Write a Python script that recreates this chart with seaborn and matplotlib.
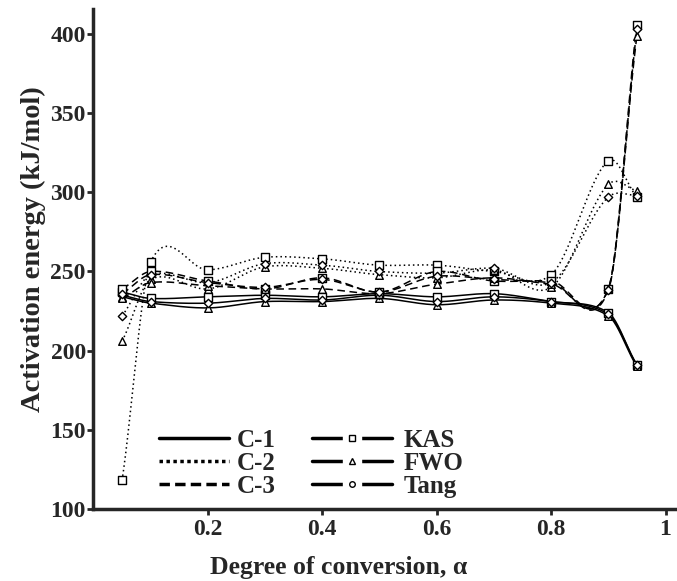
import numpy as np
import pandas as pd
import matplotlib
matplotlib.use("Agg")
import matplotlib.pyplot as plt
from matplotlib.lines import Line2D
import seaborn as sns

# conversion degrees
alpha = [0.05, 0.1, 0.2, 0.3, 0.4, 0.5, 0.6, 0.7, 0.8, 0.9, 0.95]

# activation energies (kJ/mol)
kas_c1 = [237, 233, 234, 235, 234, 236, 234, 236, 231, 224, 191]
fwo_c1 = [234, 230, 227, 231, 231, 233, 229, 232, 230, 222, 190]
tang_c1 = [235, 231, 230, 233, 232, 235, 231, 234, 231, 223, 191]

kas_c2 = [118, 256, 251, 259, 258, 254, 254, 250, 248, 320, 297]
fwo_c2 = [206, 245, 239, 253, 252, 248, 246, 251, 240, 305, 301]
tang_c2 = [222, 248, 243, 255, 254, 250, 249, 252, 243, 297, 298]

kas_c3 = [239, 250, 244, 239, 246, 237, 250, 244, 244, 239, 406]
fwo_c3 = [233, 243, 241, 239, 239, 236, 242, 246, 242, 239, 399]
tang_c3 = [236, 248, 243, 240, 245, 237, 247, 245, 243, 238, 403]

samples = ["C-1", "C-2", "C-3"]
methods = ["KAS", "FWO", "Tang"]
series = {
    ("C-1", "KAS"): kas_c1, ("C-1", "FWO"): fwo_c1, ("C-1", "Tang"): tang_c1,
    ("C-2", "KAS"): kas_c2, ("C-2", "FWO"): fwo_c2, ("C-2", "Tang"): tang_c2,
    ("C-3", "KAS"): kas_c3, ("C-3", "FWO"): fwo_c3, ("C-3", "Tang"): tang_c3,
}

rows = []
for (s, m), vals in series.items():
    for a, v in zip(alpha, vals):
        rows.append({"alpha": a, "Ea": v, "sample": s, "method": m})
df = pd.DataFrame(rows)

line_styles = {"C-1": "-", "C-2": (0, (1, 2)), "C-3": (0, (5, 3))}
marker_map = {"KAS": "s", "FWO": "^", "Tang": "D"}
marker_size = {"KAS": 30, "FWO": 30, "Tang": 18}


def smooth_curve(x, y, n=40, tension=0.85):
    # cubic Hermite (Catmull-Rom style) curve through the points
    x = np.asarray(x, float)
    y = np.asarray(y, float)
    k = len(x)
    m = np.zeros(k)
    m[0] = (y[1] - y[0]) / (x[1] - x[0])
    m[-1] = (y[-1] - y[-2]) / (x[-1] - x[-2])
    m[1:-1] = (y[2:] - y[:-2]) / (x[2:] - x[:-2])
    m *= tension
    xs_all, ys_all = [], []
    for i in range(k - 1):
        h = x[i + 1] - x[i]
        t = np.linspace(0, 1, n)
        h00 = 2 * t ** 3 - 3 * t ** 2 + 1
        h10 = t ** 3 - 2 * t ** 2 + t
        h01 = -2 * t ** 3 + 3 * t ** 2
        h11 = t ** 3 - t ** 2
        xs_all.append(x[i] + t * h)
        ys_all.append(h00 * y[i] + h10 * h * m[i] + h01 * y[i + 1] + h11 * h * m[i + 1])
    return np.concatenate(xs_all), np.concatenate(ys_all)


sns.set_style("ticks")
plt.rcParams["font.family"] = ["Liberation Serif", "DejaVu Serif"]
plt.rcParams["font.weight"] = "bold"

fig = plt.figure(figsize=(6.77, 5.81), dpi=100)
ax = fig.add_axes([0.138, 0.124, 0.862, 0.861])

for s in samples:
    for m in methods:
        sub = df[(df["sample"] == s) & (df["method"] == m)]
        xs, ys = smooth_curve(sub["alpha"], sub["Ea"])
        smooth = pd.DataFrame({"alpha": xs, "Ea": ys})
        sns.lineplot(data=smooth, x="alpha", y="Ea", ax=ax, color="black",
                     lw=1.1, linestyle=line_styles[s], sort=False,
                     estimator=None, legend=False)
        sns.scatterplot(data=sub, x="alpha", y="Ea", ax=ax,
                        marker=marker_map[m], s=marker_size[m],
                        facecolor="white", edgecolor="black", linewidth=1,
                        legend=False, zorder=3)

ax.set_xlim(0, 1.02)
ax.set_ylim(100, 416)
ax.set_xticks([0.2, 0.4, 0.6, 0.8, 1.0])
ax.set_xticklabels(["0.2", "0.4", "0.6", "0.8", "1"])
ax.set_yticks([100, 150, 200, 250, 300, 350, 400])
ax.tick_params(axis="both", labelsize=17, width=2, length=4, direction="out")
ax.tick_params(axis="y", pad=1.5)
ax.tick_params(axis="x", pad=3)
for lab in ax.get_xticklabels() + ax.get_yticklabels():
    lab.set_fontweight("bold")

sns.despine(ax=ax)
ax.spines["left"].set_linewidth(2.5)
ax.spines["bottom"].set_linewidth(2.5)

ax.set_xlabel("Degree of conversion, α", fontsize=18.5, fontweight="bold")
ax.set_ylabel("Activation energy (kJ/mol)", fontsize=20.5, fontweight="bold")
ax.xaxis.set_label_coords(0.42, -0.094)
ax.yaxis.set_label_coords(-0.082, 0.52)

# legend for samples (line styles)
sample_handles = [
    Line2D([], [], color="black", lw=2.5, linestyle="-"),
    Line2D([], [], color="black", lw=2.5, linestyle=(0, (1, 1))),
    Line2D([], [], color="black", lw=2.5, linestyle=(0, (3, 1.5))),
]
leg1 = ax.legend(sample_handles, samples, loc="upper left",
                 bbox_to_anchor=(0.113, 0.16), frameon=False,
                 handlelength=2.8, handletextpad=0.3, labelspacing=0.0,
                 borderaxespad=0, borderpad=0,
                 prop={"size": 18, "weight": "bold"})
ax.add_artist(leg1)

# legend for methods (markers)
method_handles = []
for m, ms in zip(methods, [5, 5, 4]):
    ln = Line2D([], [], color="black", lw=2.5, linestyle="-")
    gap = Line2D([], [], color="white", marker="s", markersize=13,
                 markeredgecolor="white", linestyle="none")
    mk = Line2D([], [], color="black", marker=marker_map[m] if m != "Tang" else "o",
                markersize=ms, markerfacecolor="white", markeredgecolor="black",
                markeredgewidth=1, linestyle="none")
    method_handles.append((ln, gap, mk))
ax.legend(method_handles, methods, loc="upper left",
          bbox_to_anchor=(0.375, 0.16), frameon=False,
          handlelength=3.2, handletextpad=0.45, labelspacing=0.0,
          borderaxespad=0, borderpad=0,
          prop={"size": 18, "weight": "bold"})

fig.savefig("out.png", dpi=100)
